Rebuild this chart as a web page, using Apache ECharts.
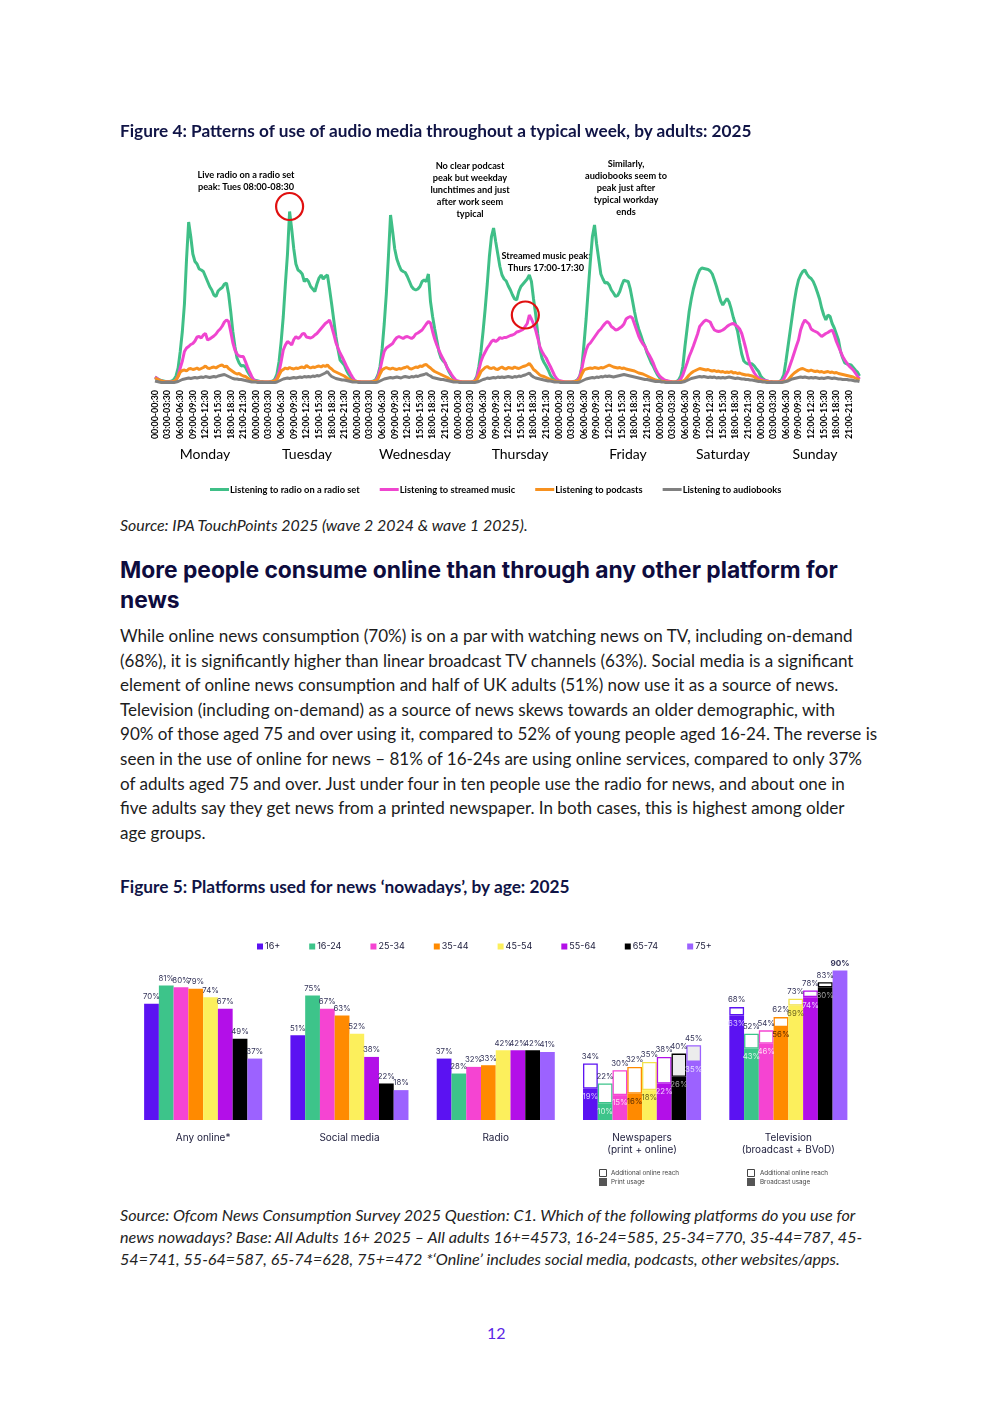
<!DOCTYPE html>
<html><head><meta charset="utf-8">
<script src="https://cdn.jsdelivr.net/npm/echarts@6.0.0/dist/echarts.min.js"></script>
<style>
html,body{margin:0;padding:0;background:#fff;}
#page{position:relative;width:992px;height:1403px;overflow:hidden;background:#fff;}
.t{position:absolute;white-space:nowrap;}
</style></head>
<body><div id="page">
<div id="c1" style="position:absolute;left:0;top:140px;width:992px;height:370px;"></div>
<div id="c2" style="position:absolute;left:0;top:920px;width:992px;height:280px;"></div>
</div>
<script>
// ---------------- Figure 4 data (reach index per half-hour, Mon..Sun) ----------------
const days = ['Monday','Tuesday','Wednesday','Thursday','Friday','Saturday','Sunday'];
const dayKeys = ['Mon','Tue','Wed','Thu','Fri','Sat','Sun'];
const seriesNames4 = ['Listening to radio on a radio set','Listening to streamed music','Listening to podcasts','Listening to audiobooks'];

const radioSet = [
 1.4,1.1,0.9,0.7,0.6,0.5,0.5,0.5, 0.6,0.9,1.6,3.2, 6.5,10.5,16,25, 32.4,29.5,26,24.5, 24,23,22.8,22.5, 21.5,20.5,19.5,18.8, 17.8,17.5,18.6,19, 19.3,20,20.2,18, 14.5,10.5,7.5,5.2, 4.2,3.6,3.7,3.4, 2.5,1.8,1.2,0.8,
 0.7,0.6,0.5,0.5,0.4,0.4,0.4,0.5, 0.6,1,2,4.5, 8.5,13.5,20,26, 34.5,31,27,24, 22.8,22.5,22,20.5, 21,20.5,19.5,19, 18.5,20,21.2,21.8, 21,21.5,21.8,19, 16,12.8,9.5,7, 4.8,4.3,3.8,2.8, 2,1.4,0.9,0.6,
 0.5,0.5,0.4,0.4,0.4,0.4,0.4,0.5, 0.6,0.9,1.8,3.5, 7,12,18,25.5, 33.8,30.5,27,25, 23.8,22.8,22.5,22.3, 21.5,20.5,19.5,19, 18.8,19,19.5,20.5, 20.8,20.5,22,16.5, 13.5,11,8.8,6.5, 5.2,4.6,4.2,3.2, 2.3,1.6,1,0.6,
 0.5,0.5,0.4,0.4,0.4,0.4,0.4,0.5, 0.7,1.5,3.5,6.5, 10.5,15,20,25.5, 29.5,31.2,28.5,26, 23.5,21.8,21,20.6, 19.6,18.8,17.8,17, 16.8,18.5,19.5,20, 20.5,21,21.8,20.5, 17,14,10,7, 5.2,4.3,3.6,2.8, 1.8,1.2,0.8,0.6,
 0.5,0.5,0.4,0.4,0.4,0.4,0.4,0.5, 0.6,0.9,1.6,3.5, 8,13,18.8,24.5, 29.5,31.8,28,25, 22,21,20.2,20.3, 19.8,18.8,18.2,17.5, 17.7,18.5,19.8,20.8, 20.6,20.5,19,16.8, 14.5,12.5,11,9.8, 8.5,7.5,6.2,5.2, 4.2,3.5,2.6,1.8,
 1.2,0.9,0.7,0.6,0.5,0.5,0.4,0.4, 0.5,0.8,1.6,3.5, 7.5,11,14.5,17, 19,20.5,21.8,22.8, 23.2,23.1,23,22.9, 22.6,22,20.8,19.5, 18,16.6,15.8,16.5, 17.1,16.4,15,13.3, 12,10.6,8.2,6, 4.6,4.2,4,4.1, 4,3.6,3,2.5,
 1.6,1.1,0.8,0.6,0.5,0.5,0.4,0.4, 0.4,0.5,0.9,1.8, 4.5,7.5,10.5,13.5, 16.5,19,20.8,21.8, 22.5,22.8,22,21.4, 21.1,20.5,19.5,18.3, 17,15.2,13.8,12.8, 13.8,13.5,12.1,11.2, 10,8.8,6.5,5.2, 4.2,4,3.9,3.8, 3.3,2.8,2.4,1.6
];
const streamedMusic = [
 1.4,1.1,0.8,0.6,0.5,0.4,0.4,0.4, 0.4,0.5,0.8,1.6, 3.2,4.6,6.5,7.2, 7.5,7.9,8.1,8.6, 9.4,9.5,9.2,9.8, 10.1,8.8,9,9.3, 9.6,10,10.6,11, 11.6,12.4,12.8,12.5, 10.5,8.3,6.8,6, 5.6,5.5,5.5,4.5, 3.4,2.4,1.5,0.8,
 0.6,0.5,0.4,0.4,0.4,0.4,0.4,0.4, 0.5,0.7,1.2,2.4, 4.5,6.8,7.8,8.5, 8.2,7.8,8.9,9.5, 9.1,9.4,10,10.1, 9.4,9.3,9.2,9.4, 9.8,10.1,10.6,11.1, 11.6,12.1,12.4,12.8, 11.5,10,8.3,7.2, 6.2,5.4,4.5,3.6, 2.8,2,1.3,0.7,
 0.5,0.5,0.4,0.4,0.4,0.4,0.4,0.4, 0.5,0.7,1.4,2.8, 4.8,6.5,7.2,7.5, 7.8,8.1,8.8,9.3, 9.5,9.3,9.1,9.4, 9.5,9.3,9.1,9.4, 10,10.2,10.5,10.8, 11.4,12,12.5,12.2, 10.5,9,7.8,6.8, 5.8,5,4.2,3.2, 2.6,1.9,1.3,0.8,
 0.6,0.5,0.4,0.4,0.4,0.4,0.4,0.4, 0.6,1.2,2.8,4.5, 5.6,6.4,7.2,7.8, 8.5,8.8,8.5,8.8, 9.3,9.1,9.3,9.3, 9.5,9.7,9.8,10, 10.4,10.5,10.7,10.9, 11.5,12.1,13.8,13, 12,10.8,9.2,7.5, 6.5,5.8,5.2,4.3, 3.5,2.6,1.7,1.1,
 0.7,0.6,0.5,0.4,0.4,0.4,0.4,0.4, 0.5,0.8,1.5,3.2, 5.2,6.8,7.8,8.2, 8.8,9.4,10,10.6, 11,11.6,12.1,12.5, 12.2,11.5,11.2,10.8, 10.9,11.2,11.5,12, 13,13.3,13.5,13.2, 12,10.8,9.6,8.7, 8,7.5,6.5,5.8, 5,4.1,3,2.2,
 1.6,1.2,0.9,0.7,0.6,0.5,0.4,0.4, 0.4,0.6,1,1.8, 3,4.2,5.5,6.5, 7.6,8.8,10,11.5, 12,12.5,12.8,12.6, 12.4,11.5,10.8,10.6, 10.5,10.6,10.8,11.1, 11.5,11.8,12,12.1, 11.8,11.5,11,10.1, 8.6,7,5.2,3.8, 3,2.2,1.6,1.2,
 1,0.8,0.7,0.6,0.5,0.4,0.4,0.4, 0.4,0.4,0.6,1, 1.8,2.6,3.8,5, 6.3,7.6,8.8,10.8, 12,12.8,12.4,12, 11,10.7,10.5,10.3, 9.9,9.5,9.8,10.1, 10.3,10.6,10.8,9.8, 8.5,7.5,6.5,5.5, 4.8,4.2,3.6,3.2, 2.8,2.2,1.6,1
];
const podcasts = [
 1.2,1,0.8,0.6,0.5,0.4,0.4,0.4, 0.4,0.5,0.8,1.5, 2.4,2.7,2.8,2.6, 3,3.1,2.9,3, 3.2,2.9,3.1,3.3, 3.6,3.2,3.1,3.3, 3.4,3.2,3.5,3.7, 3.8,3.4,3.6,3.1, 2.8,2.5,2.2,2, 2.1,1.8,1.6,1.5, 1.2,0.9,0.7,0.5,
 0.5,0.4,0.4,0.4,0.4,0.4,0.4,0.4, 0.5,0.6,0.9,1.8, 2.6,2.9,3.2,3, 3.3,3.1,3,3.2, 3.1,3.3,3.4,3.2, 3.7,3.4,3.2,3.4, 3.3,3.5,3.6,3.4, 3.7,3.5,3.8,3.3, 3,2.6,2.4,2.2, 2,1.8,1.6,1.3, 1,0.8,0.6,0.5,
 0.5,0.4,0.4,0.4,0.4,0.4,0.4,0.4, 0.5,0.6,1,2, 2.8,3.1,3.3,3.1, 3,3.2,3,2.9, 3.1,3,3.2,3.3, 3.5,3.1,3,3.2, 3.4,3.3,3.6,3.5, 3.8,3.9,3.5,3.2, 2.8,2.5,2.3,2.1, 1.9,1.7,1.5,1.3, 1,0.8,0.6,0.5,
 0.5,0.4,0.4,0.4,0.4,0.4,0.4,0.4, 0.5,0.8,1.6,2.5, 2.9,3.3,3.5,3.2, 3.1,3.3,3,2.9, 3.2,3.4,3.1,3, 3.3,3.2,3.1,3.4, 3.2,3.1,3.3,3.5, 3.6,3.8,4.1,3.6, 2.9,2.6,2.2,1.8, 1.6,1.5,1.3,1.1, 0.9,0.7,0.6,0.5,
 0.5,0.4,0.4,0.4,0.4,0.4,0.4,0.4, 0.5,0.6,1,2, 2.8,3,3.1,3.2, 3.1,3.3,3.2,3.1, 3.3,3.2,3.4,3.6, 3.8,3.6,3.4,3.3, 3.2,3.3,3.1,3.2, 3,2.9,2.8,2.7, 2.6,2.4,2.2,2.1, 2,1.8,1.6,1.4, 1.2,1,0.8,0.7,
 0.6,0.5,0.5,0.4,0.4,0.4,0.4,0.4, 0.4,0.4,0.5,0.6, 0.8,1.3,1.8,2.2, 2.5,2.7,2.9,3.1, 3,2.9,2.8,2.9, 2.7,2.6,2.7,2.5, 2.6,2.4,2.5,2.3, 2.4,2.3,2.5,2.2, 2.3,2.1,2.2,2, 1.9,1.8,1.8,1.7, 1.6,1.4,1.1,0.8,
 0.7,0.6,0.5,0.5,0.4,0.4,0.4,0.4, 0.4,0.4,0.4,0.5, 0.6,0.8,1.3,1.8, 2.2,2.5,2.8,3, 3.1,2.9,2.7,2.6, 2.8,2.6,2.5,2.6, 2.4,2.5,2.3,2.4, 2.5,2.3,2.4,2.2, 2.3,2.1,2,1.9, 1.8,1.7,1.6,1.5, 1.4,1.2,1,0.8
];
const audiobooks = [
 0.6,0.5,0.4,0.3,0.3,0.3,0.3,0.3, 0.3,0.3,0.4,0.5, 0.7,0.9,1,1.1, 1.2,1.1,1.2,1.3, 1.2,1.3,1.4,1.3, 1.5,1.4,1.3,1.4, 1.5,1.4,1.6,1.7, 1.8,1.9,1.7,1.5, 1.3,1.1,1,1, 0.9,0.9,0.8,0.7, 0.6,0.5,0.4,0.4,
 0.4,0.3,0.3,0.3,0.3,0.3,0.3,0.3, 0.3,0.3,0.4,0.6, 0.8,1,1.1,1.2, 1.1,1.2,1.3,1.2, 1.3,1.4,1.3,1.5, 1.4,1.5,1.4,1.6, 1.5,1.7,1.6,1.8, 2,2.2,2.5,1.9, 1.5,1.3,1.1,1, 0.9,0.8,0.8,0.7, 0.6,0.5,0.4,0.4,
 0.4,0.3,0.3,0.3,0.3,0.3,0.3,0.3, 0.3,0.3,0.4,0.6, 0.8,1,1.1,1.2, 1.3,1.2,1.3,1.4, 1.3,1.2,1.4,1.5, 1.4,1.3,1.5,1.4, 1.6,1.5,1.7,1.8, 1.9,2.1,1.8,1.6, 1.3,1.2,1.1,1, 0.9,0.9,0.8,0.7, 0.6,0.5,0.4,0.4,
 0.4,0.3,0.3,0.3,0.3,0.3,0.3,0.3, 0.3,0.4,0.5,0.7, 0.9,1,1.2,1.1, 1.2,1.3,1.2,1.4, 1.3,1.4,1.3,1.4, 1.5,1.4,1.3,1.5, 1.4,1.6,1.5,1.7, 1.8,2,2.2,1.7, 1.4,1.2,1.1,1, 0.9,0.8,0.7,0.6, 0.6,0.5,0.4,0.4,
 0.4,0.3,0.3,0.3,0.3,0.3,0.3,0.3, 0.3,0.3,0.4,0.6, 0.8,1,1.1,1.2, 1.3,1.2,1.4,1.3, 1.5,1.4,1.6,1.5, 1.6,1.5,1.4,1.5, 1.6,1.7,1.8,1.9, 1.8,1.7,1.6,1.5, 1.4,1.3,1.2,1.1, 1,0.9,0.9,0.8, 0.7,0.6,0.5,0.5,
 0.5,0.4,0.4,0.3,0.3,0.3,0.3,0.3, 0.3,0.3,0.3,0.4, 0.5,0.7,0.9,1.1, 1.2,1.3,1.4,1.5, 1.4,1.5,1.4,1.3, 1.4,1.3,1.4,1.2, 1.3,1.2,1.3,1.2, 1.3,1.4,1.3,1.2, 1.1,1.2,1.1,1, 1,0.9,0.9,0.8, 0.8,0.7,0.6,0.5,
 0.5,0.4,0.4,0.3,0.3,0.3,0.3,0.3, 0.3,0.3,0.3,0.4, 0.5,0.6,0.8,1, 1.1,1.2,1.3,1.4, 1.3,1.4,1.3,1.2, 1.3,1.2,1.3,1.2, 1.1,1.2,1.1,1.2, 1.3,1.2,1.1,1.2, 1.1,1,1,0.9, 0.9,0.9,0.8,0.8, 0.7,0.6,0.6,0.5
];
const annotations4 = [
 'Live radio on a radio set\npeak: Tues 08:00-08:30',
 'No clear podcast\npeak but weekday\nlunchtimes and just\nafter work seem\ntypical',
 'Streamed music peak:\nThurs 17:00-17:30',
 'Similarly,\naudiobooks seem to\npeak just after\ntypical workday\nends'
];

// ---------------- Figure 5 data ----------------
const platforms = ['Any online*','Social media','Radio','Newspapers\n(print + online)','Television\n(broadcast + BVoD)'];
const ages = ['16+','16-24','25-34','35-44','45-54','55-64','65-74','75+'];
const anyOnline   = [70,81,80,79,74,67,49,37];
const socialMedia = [51,75,67,63,52,38,22,18];
const radioNews   = [37,28,32,33,42,42,42,41];
const newsTotal   = [34,22,30,32,35,38,40,45];
const newsPrint   = [19,10,15,16,18,22,26,35];
const tvTotal     = [68,52,54,62,73,78,83,90];
const tvBroadcast = [63,43,46,56,69,74,80,90];

// ---------------- page text ----------------
const fig4Title = 'Figure 4: Patterns of use of audio media throughout a typical week, by adults: 2025';
const source4 = 'Source: IPA TouchPoints 2025 (wave 2 2024 & wave 1 2025).';
const headingLines = ['More people consume online than through any other platform for','news'];
const paraLines = [
 'While online news consumption (70%) is on a par with watching news on TV, including on-demand',
 '(68%), it is significantly higher than linear broadcast TV channels (63%). Social media is a significant',
 'element of online news consumption and half of UK adults (51%) now use it as a source of news.',
 'Television (including on-demand) as a source of news skews towards an older demographic, with',
 '90% of those aged 75 and over using it, compared to 52% of young people aged 16-24. The reverse is',
 'seen in the use of online for news \u2013 81% of 16-24s are using online services, compared to only 37%',
 'of adults aged 75 and over. Just under four in ten people use the radio for news, and about one in',
 'five adults say they get news from a printed newspaper. In both cases, this is highest among older',
 'age groups.'
];
const fig5Title = 'Figure 5: Platforms used for news \u2018nowadays\u2019, by age: 2025';
const source5Lines = [
 'Source: Ofcom News Consumption Survey 2025 Question: C1. Which of the following platforms do you use for',
 'news nowadays? Base: All Adults 16+ 2025 \u2013 All adults 16+=4573, 16-24=585, 25-34=770, 35-44=787, 45-',
 '54=741, 55-64=587, 65-74=628, 75+=472 *\u2018Online\u2019 includes social media, podcasts, other websites/apps.'
];
const pageNumber = '12';

// ---------------- page text layout ----------------
const page = document.getElementById('page');
function block(lines, x, y0, lh, font, weight, style, color, targetW){
  let size = 16;
  const els = lines.map((s,i)=>{
    const d = document.createElement('div');
    d.className='t'; d.textContent=s;
    d.style.left = x+'px'; d.style.fontFamily=font; d.style.fontWeight=weight; d.style.fontStyle=style; d.style.color=color;
    d.style.fontSize = size+'px'; d.style.lineHeight='1.2';
    page.appendChild(d); return d;
  });
  if (targetW){ const w = els[0].getBoundingClientRect().width; size = size*targetW/w; }
  els.forEach((d,i)=>{ d.style.fontSize=size+'px'; d.style.top=(y0+i*lh-0.59*size)+'px'; });
  return size;
}
block([fig4Title],120,131,0,'Lato','700','normal','#101446',632);
block([source4],120,524,0,'Lato','400','italic','#222',408);
block(headingLines,120,569,30,'Inter','700','normal','#0e0c3e',718);
block(paraLines,120,636,24.6,'Lato','400','normal','#1c1c1c',733);
block([fig5Title],120,887,0,'Lato','700','normal','#101446',450);
block(source5Lines,120,1215,22,'Lato','400','italic','#222',736);
(function(){const d=document.createElement('div');d.className='t';d.textContent=pageNumber;d.style.cssText+='left:487px;top:1323px;font-family:Lato;font-size:16px;color:#5b26e6;line-height:1.2;';page.appendChild(d);})();

// ---------------- Figure 4 chart ----------------
const slots = [];
dayKeys.forEach(dk=>{
  for(let h=0;h<48;h++){
    const p=n=>String(n).padStart(2,'0');
    const s=p(Math.floor(h/2))+':'+(h%2?'30':'00');
    const e2=h+1; const e=p(Math.floor(e2/2)%24)+':'+(e2%2?'30':'00');
    slots.push(dk+'|'+s+'-'+e);
  }
});
const colors4 = ['#3fbf87','#ef45cf','#f7911f','#808080'];
const dayLabelX = [205,307,415,520,628,723,815];
const annoPos = [[246,29],[470,20],[546,110],[626,18]];
const c1 = echarts.init(document.getElementById('c1'));
const lineData = [radioSet, streamedMusic, podcasts, audiobooks];
c1.setOption({
  animation:false,
  color: colors4,
  grid:{left:155,right:132.5,top:44,height:200,containLabel:false},
  xAxis:{type:'category',data:slots,boundaryGap:false,
    axisLine:{show:false},axisTick:{show:false},splitLine:{show:false},
    axisLabel:{interval:5,rotate:90,margin:6,fontSize:8.9,fontWeight:'bold',fontFamily:'Lato',color:'#000',
      formatter:v=>v.split('|')[1]}},
  yAxis:{type:'value',min:0,max:40,show:false,splitLine:{show:false}},
  legend:{data:seriesNames4,left:205,top:340,icon:'rect',itemWidth:19,itemHeight:3,itemGap:20,
    textStyle:{fontSize:9.3,fontWeight:'bold',fontFamily:'Lato',color:'#000',padding:[0,0,0,-4]}},
  series: lineData.map((d,i)=>{
    const s={name:seriesNames4[i],type:'line',data:d,symbol:'none',lineStyle:{width:3,color:colors4[i]},z:2+i};
    if(i===0) s.markPoint={symbol:'circle',symbolSize:27,symbolOffset:[0,-5],label:{show:false},
      itemStyle:{color:'rgba(0,0,0,0)',borderColor:'#e01010',borderWidth:2.2},
      data:[{coord:['Tue|08:00-08:30',34.5]}]};
    if(i===1) s.markPoint={symbol:'circle',symbolSize:27,symbolOffset:[-4,0],label:{show:false},
      itemStyle:{color:'rgba(0,0,0,0)',borderColor:'#e01010',borderWidth:2.2},
      data:[{coord:['Thu|17:00-17:30',13.8]}]};
    return s;
  }),
  graphic: [
    ...days.map((d,i)=>({type:'text',x:dayLabelX[i],y:314,style:{text:d,fill:'#000',font:'14px Lato',textAlign:'center',textVerticalAlign:'middle'}})),
    ...annotations4.map((t,i)=>({type:'text',x:annoPos[i][0],y:annoPos[i][1],style:{text:t,fill:'#000',font:'bold 9.2px Lato',lineHeight:12,textAlign:'center',textVerticalAlign:'top'}}))
  ]
});

// ---------------- Figure 5 chart ----------------
const ageColors = ['#5b12f2','#3dc48a','#f544d2','#ff8a00','#fcef5c','#b30fe8','#000000','#9c62ff'];
const innerColors = ['#d8c8ff','#d6f5e6','#ffd6f4','#5a2c00','#6b6320','#f0ccff','#a0a0a0','#e6dcff'];
const addFill = [['#fff','#fff'],['#fff','#fff'],['#fff','#fff'],['#fff','#fff'],['#fff','#fff'],['#fff','#fff'],['#ededed','#fff'],['#ececec','#fff']];
const lblColor = '#35355a';
const series5 = [];
ages.forEach((age,i)=>{
  const base=[anyOnline[i],socialMedia[i],radioNews[i],newsPrint[i],tvBroadcast[i]];
  const tot=[anyOnline[i],socialMedia[i],radioNews[i],newsTotal[i],tvTotal[i]];
  series5.push({name:age,type:'bar',stack:'s'+i,barGap:'0%',barCategoryGap:'19.3%',
    itemStyle:{color:ageColors[i]},
    label:{show:true,formatter:'{c}%',fontFamily:'Inter',fontSize:7.8},
    data: base.map((v,k)=>({value:v,label: tot[k]===v
      ? {position:'top',distance:3,color:lblColor,fontWeight:(k===4&&i===7)?'bold':'normal',fontSize:(k===4&&i===7)?8.2:7.8}
      : {position:'insideTop',distance:4,color:innerColors[i]}}))});
  series5.push({name:age+' additional online',type:'bar',stack:'s'+i,
    label:{show:true,position:'top',distance:3,color:lblColor,fontFamily:'Inter',fontSize:7.8,formatter:p=>tot[p.dataIndex]+'%'},
    data: base.map((v,k)=> (k<3||tot[k]===v) ? '-' : {value:tot[k]-v,itemStyle:{color:addFill[i][k-3],borderColor:ageColors[i]==='#fcef5c'?'#f2e24a':ageColors[i],borderWidth:1.3}})});
});
const c2 = echarts.init(document.getElementById('c2'));
c2.setOption({
  animation:false,
  grid:{left:130,right:130.5,top:34,bottom:80,containLabel:false},
  legend:{data:ages.map((a,i)=>({name:a,itemStyle:{color:ageColors[i]}})),left:252,top:17,icon:'rect',itemWidth:6,itemHeight:6,itemGap:29,
    textStyle:{fontFamily:'Inter',fontSize:9,color:'#1b1b3a',padding:[0,0,0,-3]}},
  xAxis:{type:'category',data:platforms,axisLine:{show:false},axisTick:{show:false},
    axisLabel:{margin:12,fontFamily:'Inter',fontSize:10,lineHeight:12,color:'#1b1b3a'}},
  yAxis:{type:'value',min:0,max:100,show:false,splitLine:{show:false}},
  series:series5,
  graphic:[
    {type:'rect',shape:{x:599.5,y:249.5,width:7,height:7},style:{fill:'#fff',stroke:'#444',lineWidth:1}},
    {type:'rect',shape:{x:599,y:258,width:8,height:8},style:{fill:'#555'}},
    {type:'text',x:611,y:253,style:{text:'Additional online reach',font:'6.3px Inter',fill:'#444',textVerticalAlign:'middle'}},
    {type:'text',x:611,y:262,style:{text:'Print usage',font:'6.3px Inter',fill:'#444',textVerticalAlign:'middle'}},
    {type:'rect',shape:{x:747.5,y:249.5,width:7,height:7},style:{fill:'#fff',stroke:'#444',lineWidth:1}},
    {type:'rect',shape:{x:747,y:258,width:8,height:8},style:{fill:'#555'}},
    {type:'text',x:760,y:253,style:{text:'Additional online reach',font:'6.3px Inter',fill:'#444',textVerticalAlign:'middle'}},
    {type:'text',x:760,y:262,style:{text:'Broadcast usage',font:'6.3px Inter',fill:'#444',textVerticalAlign:'middle'}}
  ]
});
</script>
</body></html>
